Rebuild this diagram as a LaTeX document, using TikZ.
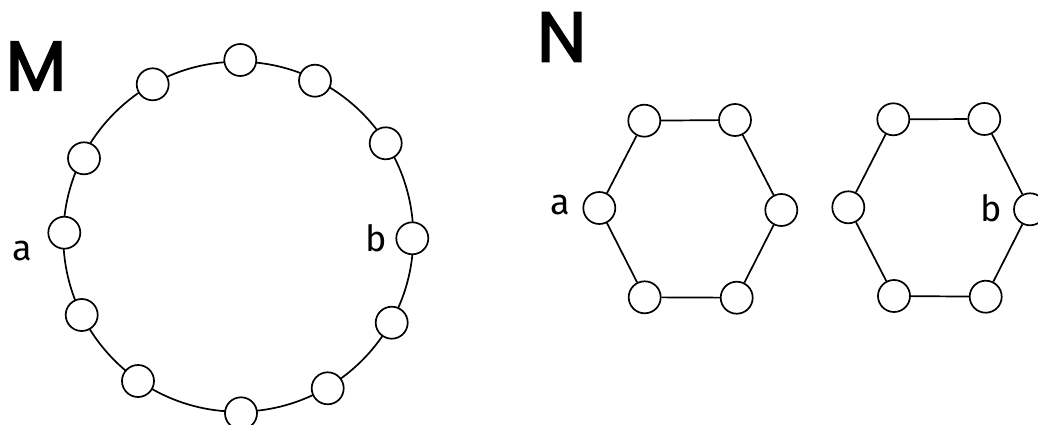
\documentclass[tikz,border=0pt]{standalone}
\usepackage{fontspec}
\setmainfont{Fira Sans}
\newfontfamily\bigfont[FakeBold=2.5]{Poppins}
\begin{document}
\begin{tikzpicture}[x=1pt,y=-1pt,
  vert/.style={circle,draw,fill=white,line width=1.7pt,minimum size=32pt,inner sep=0pt},
  edge/.style={line width=1.7pt},
  lbl/.style={font=\fontsize{36}{40}\selectfont,inner sep=0pt},
  big/.style={font=\bigfont\fontsize{70}{80}\selectfont,inner sep=0pt}]
\useasboundingbox (0,0) rectangle (1038,425);
% ---- M ----
\node[big] (M) at (36,66) {M};
\coordinate (c) at (238.3,236.7);
\draw[edge] (c) circle[radius=175];
\node[vert] (m1) at (240.3,60) {};
\node[vert] (m2) at (315,80.7) {};
\node[vert] (m3) at (385.7,143.3) {};
\node[vert] (mb) at (412.3,238.3) {};
\node[vert] (m5) at (391.7,322.7) {};
\node[vert] (m6) at (327.7,388.3) {};
\node[vert] (m7) at (241,413.3) {};
\node[vert] (m8) at (138,381) {};
\node[vert] (m9) at (81.7,315) {};
\node[vert] (ma) at (64.3,232.7) {};
\node[vert] (m11) at (84,158.3) {};
\node[vert] (m12) at (152.7,84.3) {};
\node[lbl] (la) at (22.7,251) {a};
\node[lbl] (lb) at (375.7,238) {b};
% ---- N ----
\node[big] (N) at (561.7,37) {N};
\node[vert] (h1) at (644.3,120.7) {};
\node[vert] (h2) at (735,120) {};
\node[vert] (h3) at (781.3,210) {};
\node[vert] (h4) at (736.7,297.7) {};
\node[vert] (h5) at (644.7,297.3) {};
\node[vert] (h6) at (599.3,208) {};
\draw[edge] (h1) -- (h2) -- (h3) -- (h4) -- (h5) -- (h6) -- (h1);
\node[vert] (k1) at (893.3,119.3) {};
\node[vert] (k2) at (984.3,119) {};
\node[vert] (k3) at (1030,209.3) {};
\node[vert] (k4) at (985.7,296.7) {};
\node[vert] (k5) at (894,296) {};
\node[vert] (k6) at (848.3,207.3) {};
\draw[edge] (k1) -- (k2) -- (k3) -- (k4) -- (k5) -- (k6) -- (k1);
\node[lbl] (na) at (560,205) {a};
\node[lbl] (nb) at (991,208) {b};
\end{tikzpicture}
\end{document}
